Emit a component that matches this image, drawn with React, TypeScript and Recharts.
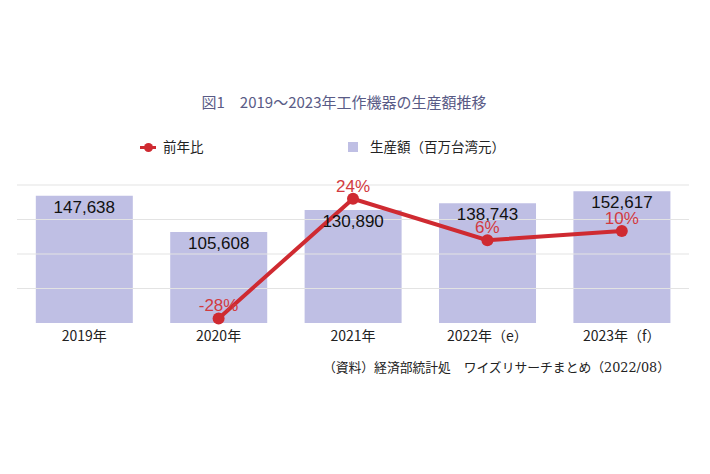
import {
    ComposedChart,
    Bar,
    Line,
    XAxis,
    YAxis,
    ReferenceLine,
    LabelList
} from "recharts";

// categories and values
const years = ["2019年", "2020年", "2021年", "2022年（e）", "2023年（f）"];
const production = [147638, 105608, 130890, 138743, 152617];
const growth: (number | null)[] = [null, -28, 24, 6, 10];

// grid lines only above the baseline
const barTicks = [40000, 80000, 120000, 160000];

const data = years.map((year, i) => ({
    year,
    production: production[i],
    growth: growth[i]
}));

const colors = {
    bar: "#bfbfe4",
    line: "#cf2a31",
    lineLabel: "#d23a40",
    title: "#595b86",
    grid: "#e3e3e3"
};

const jpFont = '"Noto Sans CJK JP", "Noto Sans", sans-serif';
const numFont = '"Liberation Sans", Arial, sans-serif';

export default function App() {
    return (
        <div
            style={{
                position: "absolute",
                left: 0,
                top: 0,
                width: 710,
                height: 474,
                background: "#fff",
                fontFamily: jpFont
            }}
        >
            <div
                style={{
                    position: "absolute",
                    left: 0,
                    width: 688,
                    top: 92,
                    textAlign: "center",
                    fontSize: 15,
                    color: colors.title,
                    lineHeight: "20px"
                }}
            >
                図1　2019～2023年工作機器の生産額推移
            </div>

            {/* legend */}
            <div style={{ position: "absolute", left: 140, top: 146, width: 16, height: 3, background: colors.line }} />
            <div style={{ position: "absolute", left: 144, top: 143, width: 9, height: 9, borderRadius: 5, background: colors.line }} />
            <div style={{ position: "absolute", left: 163, top: 137, fontSize: 13.5, lineHeight: "18px", color: "#222" }}>
                前年比
            </div>
            <div style={{ position: "absolute", left: 348, top: 142, width: 10, height: 10, background: colors.bar }} />
            <div style={{ position: "absolute", left: 370, top: 137, fontSize: 13.5, lineHeight: "18px", color: "#222" }}>
                生産額（百万台湾元）
            </div>

            <ComposedChart
                width={710}
                height={474}
                data={data}
                margin={{ top: 185, right: 21, left: 17, bottom: 121 }}
                barCategoryGap="14%"
                style={{ position: "absolute", left: 0, top: 0 }}
            >
                <XAxis
                    dataKey="year"
                    axisLine={false}
                    tickLine={false}
                    height={30}
                    tickMargin={2}
                    tick={{ fill: "#222", fontSize: 14, fontFamily: jpFont }}
                />
                <YAxis yAxisId="left" hide domain={[0, 160000]} ticks={barTicks} />
                <YAxis yAxisId="right" orientation="right" hide domain={[-30, 30]} />
                {barTicks.map((t) => (
                    <ReferenceLine key={t} yAxisId="left" y={t} stroke={colors.grid} />
                ))}
                <Bar yAxisId="left" dataKey="production" fill={colors.bar} isAnimationActive={false}>
                    <LabelList
                        dataKey="production"
                        position="insideTop"
                        offset={5}
                        formatter={(v: number) => v.toLocaleString("en-US")}
                        style={{ fill: "#111", fontSize: 17, fontFamily: numFont }}
                    />
                </Bar>
                <Line
                    yAxisId="right"
                    dataKey="growth"
                    stroke={colors.line}
                    strokeWidth={4}
                    dot={{ r: 6, fill: colors.line, stroke: colors.line, strokeWidth: 0 }}
                    isAnimationActive={false}
                >
                    <LabelList
                        dataKey="growth"
                        position="top"
                        offset={7}
                        formatter={(v: number | null) => (v == null ? "" : `${v}%`)}
                        style={{ fill: colors.lineLabel, fontSize: 17, fontFamily: numFont }}
                    />
                </Line>
            </ComposedChart>

            <div
                style={{
                    position: "absolute",
                    right: 40,
                    top: 360,
                    fontSize: 12.8,
                    lineHeight: "16px",
                    color: "#222",
                    fontFamily: '"DejaVu Serif", "Noto Sans CJK JP", serif',
                    whiteSpace: "nowrap"
                }}
            >
                （資料）経済部統計処　ワイズリサーチまとめ（2022/08）
            </div>
        </div>
    );
}
